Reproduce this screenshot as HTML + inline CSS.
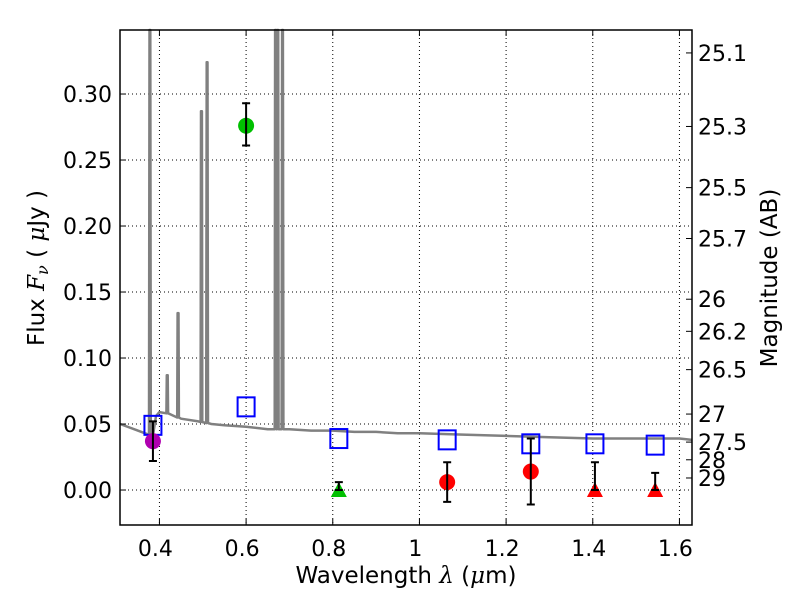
<!DOCTYPE html>
<html><head><meta charset="utf-8"><style>
body{margin:0;background:#fff;}
svg text{font-family:"DejaVu Sans","Liberation Sans",sans-serif;}
</style></head><body>
<svg id="chart" width="800" height="600" xmlns="http://www.w3.org/2000/svg">
<rect width="800" height="600" fill="#fff"/>
<g id="grid"></g>
<g id="spec"></g>
<g id="marks"></g>
<rect x="120" y="30" width="572" height="495" fill="none" stroke="#000" stroke-width="1.5"/>
<g id="axes"></g>
<text x="44" y="268" font-size="23" text-anchor="middle" transform="rotate(-90 44 268)">Flux  <tspan font-style="italic" font-family="DejaVu Serif,serif">F</tspan><tspan font-style="italic" font-size="16" dy="4" font-family="DejaVu Serif,serif">ν</tspan><tspan dy="-4">  (  </tspan><tspan font-style="italic" font-family="DejaVu Serif,serif">μ</tspan>Jy )</text>
<text x="406" y="583" font-size="23" text-anchor="middle">Wavelength  <tspan font-style="italic" font-family="DejaVu Serif,serif">λ</tspan> (<tspan font-style="italic" font-family="DejaVu Serif,serif">μ</tspan>m)</text>
<text x="777" y="278" font-size="23" text-anchor="middle" transform="rotate(-90 777 278)">Magnitude (AB)</text>
</svg>
<script>
const xTicks=[0.4,0.6,0.8,1.0,1.2,1.4,1.6];
const xTickLabels=["0.4","0.6","0.8","1","1.2","1.4","1.6"];
const yTicks=[0,0.05,0.10,0.15,0.20,0.25,0.30];
const yTickLabels=["0.00","0.05","0.10","0.15","0.20","0.25","0.30"];
const magTicks=[25.1,25.3,25.5,25.7,26,26.2,26.5,27,27.5,28,29];
const magLabels=["25.1","25.3","25.5","25.7","26","26.2","26.5","27","27.5","28","29"];
const contWave=[0.309,0.35,0.385,0.392,0.40,0.42,0.45,0.49,0.52,0.55,0.6,0.65,0.70,0.75,0.80,0.85,0.9,0.95,1.0,1.1,1.2,1.3,1.4,1.5,1.6,1.629];
const contFlux=[0.050,0.045,0.041,0.056,0.059,0.058,0.054,0.052,0.050,0.049,0.048,0.046,0.046,0.045,0.045,0.044,0.044,0.043,0.043,0.042,0.041,0.040,0.039,0.039,0.039,0.038];
const lineWave=[0.378,0.418,0.443,0.497,0.510,0.668,0.673,0.684];
const lineFlux=[0.40,0.087,0.134,0.287,0.324,0.40,0.40,0.40];
const pWave=[0.385,0.600,0.814,1.064,1.257,1.405,1.544];
const pFlux=[0.037,0.276,0.000,0.006,0.014,0.000,0.000];
const pErrLo=[0.022,0.261,0.000,-0.009,-0.011,0.000,0.000];
const pErrHi=[0.052,0.293,0.006,0.021,0.039,0.021,0.013];
const pColor=["#b000b0","#00c000","#00c000","#ff0000","#ff0000","#ff0000","#ff0000"];
const pShape=["circle","circle","triangle","circle","circle","triangle","triangle"];
const modelFlux=[0.049,0.063,0.039,0.038,0.035,0.035,0.034];

const X0=120,X1=692,Y0=30,Y1=525,xmin=0.309,xmax=1.629,ymin=-0.0265,ymax=0.3485;
const sx=v=>X0+(v-xmin)/(xmax-xmin)*(X1-X0);
const sy=v=>Y1-(v-ymin)/(ymax-ymin)*(Y1-Y0);
const NS="http://www.w3.org/2000/svg";
function mk(tag,attrs,parent){const e=document.createElementNS(NS,tag);for(const k in attrs)e.setAttribute(k,attrs[k]);parent.appendChild(e);return e;}
const grid=document.getElementById('grid'),axes=document.getElementById('axes'),spec=document.getElementById('spec'),marks=document.getElementById('marks');
xTicks.forEach((t,i)=>{const x=sx(t);
 const g=mk('line',{x1:x,x2:x,y1:Y0,y2:Y1,stroke:'#000','stroke-width':1,'stroke-dasharray':'1,3'},grid);
 
 mk('line',{x1:x,x2:x,y1:Y1,y2:Y1-6,stroke:'#000'},axes);mk('line',{x1:x,x2:x,y1:Y0,y2:Y0+6,stroke:'#000'},axes);
 const tx=mk('text',{x:x-4,y:556,'font-size':22,'text-anchor':'middle'},axes);tx.textContent=xTickLabels[i];
 });
yTicks.forEach((t,i)=>{const y=sy(t);
 const g=mk('line',{x1:X0,x2:X1,y1:y,y2:y,stroke:'#000','stroke-width':1,'stroke-dasharray':'1,3'},grid);
 
 mk('line',{x1:X0,x2:X0+6,y1:y,y2:y,stroke:'#000'},axes);
 const tx=mk('text',{x:112,y:y+8,'font-size':22,'text-anchor':'end'},axes);tx.textContent=yTickLabels[i];
 });
magTicks.forEach((m,i)=>{const y=sy(Math.pow(10,(23.9-m)/2.5));
 mk('line',{x1:X1-6,x2:X1,y1:y,y2:y,stroke:'#000'},axes);
 const tx=mk('text',{x:698,y:y+8,'font-size':22},axes);tx.textContent=magLabels[i];
 });
let pts=[];contWave.forEach((w,i)=>pts.push([w,contFlux[i]]));
function contAt(w){for(let i=0;i<contWave.length-1;i++){if(w>=contWave[i]&&w<=contWave[i+1]){const f=(w-contWave[i])/(contWave[i+1]-contWave[i]);return contFlux[i]+f*(contFlux[i+1]-contFlux[i]);}}return contFlux[contFlux.length-1];}
lineWave.forEach((w,i)=>{pts.push([w-0.002,contAt(w)],[w-0.001,lineFlux[i]],[w+0.001,lineFlux[i]],[w+0.002,contAt(w)]);});
pts.sort((a,b)=>a[0]-b[0]);
const sp=mk('path',{d:pts.map((p,i)=>(i?'L':'M')+sx(p[0]).toFixed(1)+','+Math.max(Y0,sy(p[1])).toFixed(1)).join(''),fill:'none',stroke:'#808080','stroke-width':2.5,'stroke-linejoin':'round'},spec);

pWave.forEach((w,i)=>{const r=mk('rect',{x:sx(w)-8.5,y:sy(modelFlux[i])-9.5,width:17,height:19,fill:'none',stroke:'#0000ff','stroke-width':2},marks);
 });
pWave.forEach((w,i)=>{const x=sx(w),y=sy(pFlux[i]);
 if(pShape[i]==='circle'){const c=mk('circle',{cx:x,cy:y,r:8,fill:pColor[i]},marks);}
 else{const t=mk('polygon',{points:`${x-8},${y+7} ${x+8},${y+7} ${x},${y-8}`,fill:pColor[i]},marks);}
 const yl=sy(pErrLo[i]),yh=sy(pErrHi[i]);
 const e=mk('path',{d:`M${x},${yl}L${x},${yh}M${x-4},${yl}L${x+4},${yl}M${x-4},${yh}L${x+4},${yh}`,stroke:'#000','stroke-width':2,fill:'none'},marks);
 });
</script>
</body></html>
